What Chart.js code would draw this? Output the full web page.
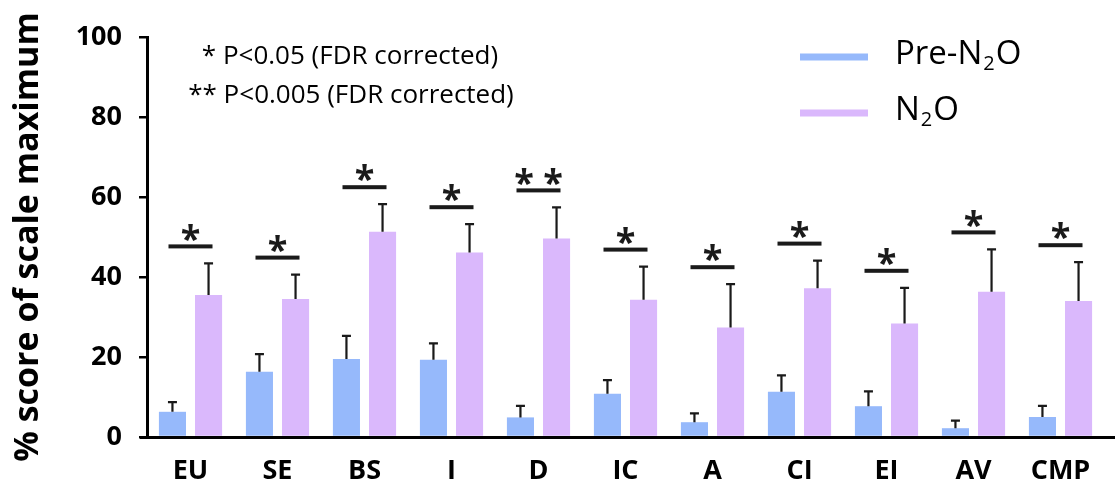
<!DOCTYPE html>
<html>
<head>
<meta charset="utf-8">
<script src="https://cdn.jsdelivr.net/npm/chart.js@4/dist/chart.umd.min.js"></script>
<style>
  html, body { margin: 0; padding: 0; background: #fff; }
  #wrap { width: 1115px; height: 490px; position: relative; }
</style>
</head>
<body>
<div id="wrap"><canvas id="c"></canvas></div>
<script>
// Scale scores (% of scale maximum) before and during N2O, with one-sided SEM
const categories = ['EU', 'SE', 'BS', 'I', 'D', 'IC', 'A', 'CI', 'EI', 'AV', 'CMP'];
const preN2O     = [6.3, 16.3, 19.5, 19.3, 4.9, 10.8, 3.7, 11.3, 7.7, 2.2, 5.0];
const preN2OErr  = [2.4, 4.4, 5.8, 4.1, 2.9, 3.4, 2.2, 4.1, 3.7, 1.9, 2.8];
const n2o        = [35.5, 34.5, 51.3, 46.1, 49.6, 34.3, 27.4, 37.2, 28.4, 36.3, 34.0];
const n2oErr     = [7.9, 6.1, 6.9, 7.1, 7.8, 8.3, 10.8, 6.9, 8.9, 10.6, 9.7];
const significance = ['*', '*', '*', '*', '**', '*', '*', '*', '*', '*', '*'];
const yTicks = [0, 20, 40, 60, 80, 100];
const seriesNames = ['Pre-N\u2082O', 'N\u2082O'];
const notes = ['* P<0.05 (FDR corrected)', '** P<0.005 (FDR corrected)'];

const BLUE = '#96b9fb';
const PINK = '#dab8fc';
const INK = '#1a1a1a';
const FONT = "'Open Sans', 'Noto Sans', sans-serif";

// Draw a label where "\u2082" is rendered as a lowered, smaller "2"
function drawSubText(ctx, text, x, y, size) {
  const parts = text.split('\u2082');
  let cx = x;
  parts.forEach((p, i) => {
    ctx.font = `${size}px ${FONT}`;
    ctx.fillText(p, cx, y);
    cx += ctx.measureText(p).width;
    if (i < parts.length - 1) {
      ctx.font = `${Math.round(size * 0.62)}px ${FONT}`;
      ctx.fillText('2', cx + 1, y + size * 0.28);
      cx += ctx.measureText('2').width + 2;
    }
  });
}

const decorations = {
  id: 'decorations',
  afterDatasetsDraw(chart) {
    const { ctx, scales: { x, y }, chartArea } = chart;
    ctx.save();

    // one-sided error bars
    const errs = [preN2OErr, n2oErr];
    const vals = [preN2O, n2o];
    [0, 1].forEach(d => {
      const meta = chart.getDatasetMeta(d);
      meta.data.forEach((bar, i) => {
        const top = y.getPixelForValue(vals[d][i] + errs[d][i]);
        ctx.strokeStyle = INK;
        ctx.lineWidth = 2.2;
        ctx.beginPath();
        ctx.moveTo(bar.x, bar.y);
        ctx.lineTo(bar.x, top);
        ctx.moveTo(bar.x - 4.5, top);
        ctx.lineTo(bar.x + 4.5, top);
        ctx.stroke();
      });
    });

    // significance brackets and stars
    significance.forEach((s, i) => {
      const cx = x.getPixelForValue(i);
      const yb = y.getPixelForValue(n2o[i] + n2oErr[i]) - 17;
      ctx.fillStyle = INK;
      ctx.fillRect(cx - 22, yb - 2, 44, 4);
      ctx.font = `bold 36px ${FONT}`;
      ctx.textAlign = 'center';
      ctx.textBaseline = 'middle';
      const label = s.split('').join(' ');
      ctx.fillText(label, cx, yb - 6);
    });

    // x axis line, running past the y axis
    ctx.fillStyle = '#000';
    ctx.fillRect(140, chartArea.bottom - 1, 1115 - 140, 3);

    // legend
    ctx.textAlign = 'left';
    ctx.textBaseline = 'middle';
    [BLUE, PINK].forEach((c, i) => {
      const ly = 57 + i * 56;
      ctx.fillStyle = c;
      ctx.fillRect(800, ly - 3.5, 68, 7);
      ctx.fillStyle = '#000';
      drawSubText(ctx, seriesNames[i], 895, ly - 2, 33);
    });

    // significance notes
    ctx.fillStyle = '#000';
    ctx.textAlign = 'center';
    ctx.font = `26px ${FONT}`;
    ctx.fillText(notes[0], 350, 57);
    ctx.fillText(notes[1], 351, 96);

    ctx.restore();
  }
};

new Chart(document.getElementById('c'), {
  type: 'bar',
  data: {
    labels: categories,
    datasets: [
      { label: seriesNames[0], data: preN2O, backgroundColor: BLUE, borderWidth: 0 },
      { label: seriesNames[1], data: n2o, backgroundColor: PINK, borderWidth: 0 }
    ]
  },
  options: {
    responsive: true,
    maintainAspectRatio: false,
    animation: false,
    devicePixelRatio: 1,
    layout: { padding: { top: 37, right: 11, bottom: 0, left: 0 } },
    datasets: { bar: { categoryPercentage: 0.83, barPercentage: 0.75 } },
    plugins: { legend: { display: false }, tooltip: { enabled: false } },
    scales: {
      x: {
        grid: { display: false, drawTicks: false },
        border: { display: false },
        ticks: { color: '#000', padding: 18, font: { family: FONT, weight: 'bold', size: 27 } },
        afterFit: s => { s.height = 53; }
      },
      y: {
        min: 0,
        max: 100,
        afterBuildTicks: s => { s.ticks = yTicks.map(v => ({ value: v })); },
        grid: { drawOnChartArea: false, drawTicks: true, tickLength: 8, color: '#000', lineWidth: 2.5 },
        border: { display: true, color: '#000', width: 3 },
        ticks: { color: '#000', padding: 17, font: { family: FONT, weight: 'bold', size: 27 } },
        title: {
          display: true,
          text: '% score of scale maximum',
          color: '#000',
          font: { family: FONT, weight: 'bold', size: 34 },
          padding: { top: 8, bottom: 0 }
        },
        afterFit: s => { s.width = 147; }
      }
    }
  },
  plugins: [decorations]
});
</script>
</body>
</html>
